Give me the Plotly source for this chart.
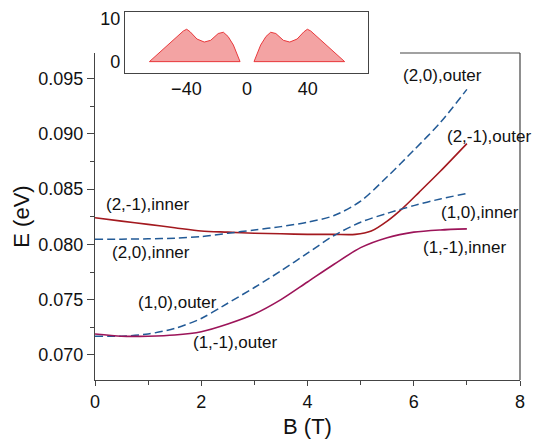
import plotly.graph_objects as go

# ---- main data ----
B_21 = [0, 0.5, 1, 1.5, 2, 2.5, 3, 3.5, 4, 4.5, 4.9, 5.2, 5.5, 5.8, 6.1, 6.5, 7.0]
E_21 = [0.0824, 0.0821, 0.0818, 0.0815, 0.0812, 0.0811, 0.0810, 0.08095, 0.0809,
        0.0809, 0.0809, 0.0812, 0.0821, 0.0833, 0.0847, 0.0866, 0.0891]

B_20 = [0, 0.5, 1, 1.5, 2.0, 2.5, 3.0, 3.5, 4.0, 4.5, 5.0, 5.5, 6.0, 6.5, 7.0]
E_20 = [0.08045, 0.08047, 0.08050, 0.08055, 0.0807, 0.0810, 0.0813, 0.0816, 0.0820,
        0.0826, 0.0839, 0.0861, 0.0885, 0.0910, 0.0940]

B_10 = [0, 0.5, 1.0, 1.5, 2.0, 2.4, 3.0, 3.5, 4.0, 4.5, 5.0, 5.5, 6.0, 6.5, 7.0]
E_10 = [0.0717, 0.0717, 0.0719, 0.0724, 0.0733, 0.0744, 0.0761, 0.0776, 0.0792,
        0.0808, 0.0820, 0.0828, 0.0835, 0.0841, 0.0846]

B_11 = [0, 0.5, 1.0, 1.5, 2.0, 2.5, 3.0, 3.5, 4.0, 4.5, 5.0, 5.5, 6.0, 6.5, 7.0]
E_11 = [0.0719, 0.0717, 0.0717, 0.0718, 0.0721, 0.0728, 0.0737, 0.0750, 0.0766,
        0.0782, 0.0797, 0.0806, 0.0811, 0.0813, 0.0814]

labels = ["(2,0),outer", "(2,-1),outer", "(1,0),inner", "(1,-1),inner",
          "(2,-1),inner", "(2,0),inner", "(1,0),outer", "(1,-1),outer"]
label_B = [6.55, 7.42, 7.25, 6.96, 0.98, 1.05, 1.56, 2.64]
label_E = [0.0953, 0.0897, 0.0829, 0.0797, 0.08364, 0.07922, 0.0747, 0.07117]

# ---- inset data ----
ins_x_left = [-64.4, -42, -39.8, -37.5, -33, -28.2, -24, -19, -15.6, -12.5, -9, -6.5, -4.6, -64.4]
ins_y_left = [0, 7.2, 7.6, 7.0, 5.3, 4.6, 5.0, 6.6, 6.9, 5.9, 3.9, 1.6, 0, 0]
ins_x_right = [4.6, 6.5, 9, 12.5, 15.6, 19, 24, 28.2, 33, 37.5, 39.8, 42, 64.4, 4.6]
ins_y_right = [0, 1.6, 3.9, 5.9, 6.9, 6.6, 5.0, 4.6, 5.3, 7.0, 7.6, 7.2, 0, 0]

FONT = "Liberation Sans, Arial, sans-serif"
RED = "#A3191F"
PURPLE = "#9C1459"
BLUE = "#225A96"

fig = go.Figure()
fig.add_trace(go.Scatter(x=B_21, y=E_21, mode="lines",
                         line=dict(color=RED, width=1.6, shape="spline", smoothing=0.8), showlegend=False))
fig.add_trace(go.Scatter(x=B_20, y=E_20, mode="lines",
                         line=dict(color=BLUE, width=1.5, dash="8px,4px", shape="spline", smoothing=0.8),
                         showlegend=False))
fig.add_trace(go.Scatter(x=B_10, y=E_10, mode="lines",
                         line=dict(color=BLUE, width=1.5, dash="8px,4px", shape="spline", smoothing=0.8),
                         showlegend=False))
fig.add_trace(go.Scatter(x=B_11, y=E_11, mode="lines",
                         line=dict(color=PURPLE, width=1.6, shape="spline", smoothing=0.8), showlegend=False))

for xs, ys in [(ins_x_left, ins_y_left), (ins_x_right, ins_y_right)]:
    fig.add_trace(go.Scatter(x=xs, y=ys, mode="lines", fill="toself", fillcolor="rgba(240,140,140,0.8)",
                             line=dict(color="#E8393C", width=1),
                             xaxis="x2", yaxis="y2", showlegend=False))

for t, bx, ey in zip(labels, label_B, label_E):
    fig.add_annotation(x=bx, y=ey, text=t, showarrow=False, xref="x", yref="y",
                       font=dict(size=17, color="#111", family=FONT))

ydom_top = 327 / 368
fig.update_layout(
    width=533, height=439,
    margin=dict(l=95, r=13, t=12, b=59),
    plot_bgcolor="white", paper_bgcolor="white",
    font=dict(family=FONT, size=18, color="#111"),
    xaxis=dict(range=[0, 8], domain=[0, 1], tickvals=[0, 2, 4, 6, 8], ticks="outside", ticklen=5,
               tickcolor="#444", showline=True, linecolor="#444", linewidth=1.2, showgrid=False,
               zeroline=False, minor=dict(tickvals=[1, 3, 5, 7], ticks="outside", ticklen=4, tickcolor="#444"),
               automargin=False,
               title=dict(text="B (T)", standoff=14), tickfont=dict(size=18)),
    yaxis=dict(range=[0.06774, 0.09729], domain=[0, ydom_top],
               tickvals=[0.070, 0.075, 0.080, 0.085, 0.090, 0.095], tickformat=".3f",
               ticks="outside", ticklen=7, tickcolor="#444", showline=True, linecolor="#444",
               linewidth=1.2, showgrid=False, zeroline=False, automargin=False,
               minor=dict(tickvals=[0.0725, 0.0775, 0.0825, 0.0875, 0.0925], ticks="outside",
                          ticklen=4, tickcolor="#444"),
               title=dict(text="E (eV)", standoff=2), tickfont=dict(size=18)),
    xaxis2=dict(domain=[30 / 425, 273 / 425], anchor="y2", range=[-80.5, 79.8], tickvals=[-40, 0, 40],
                showline=True, mirror=True, linecolor="#444", linewidth=1.2, ticks="", showgrid=False,
                zeroline=False, tickfont=dict(size=18), automargin=False),
    yaxis2=dict(domain=[0.835, 1.0], anchor="x2", range=[-2.6, 11.65], tickvals=[0, 10],
                showline=True, mirror=True, linecolor="#444", linewidth=1.2, ticks="", showgrid=False,
                zeroline=False, tickfont=dict(size=18), automargin=False),
    shapes=[
        dict(type="line", xref="paper", yref="paper", x0=1, x1=1, y0=0, y1=ydom_top,
             line=dict(color="#444", width=1.2)),
        dict(type="line", xref="paper", yref="paper", x0=(400 - 95) / 425, x1=1, y0=ydom_top, y1=ydom_top,
             line=dict(color="#444", width=1.2)),
    ],
)

fig.write_html("out.html")
